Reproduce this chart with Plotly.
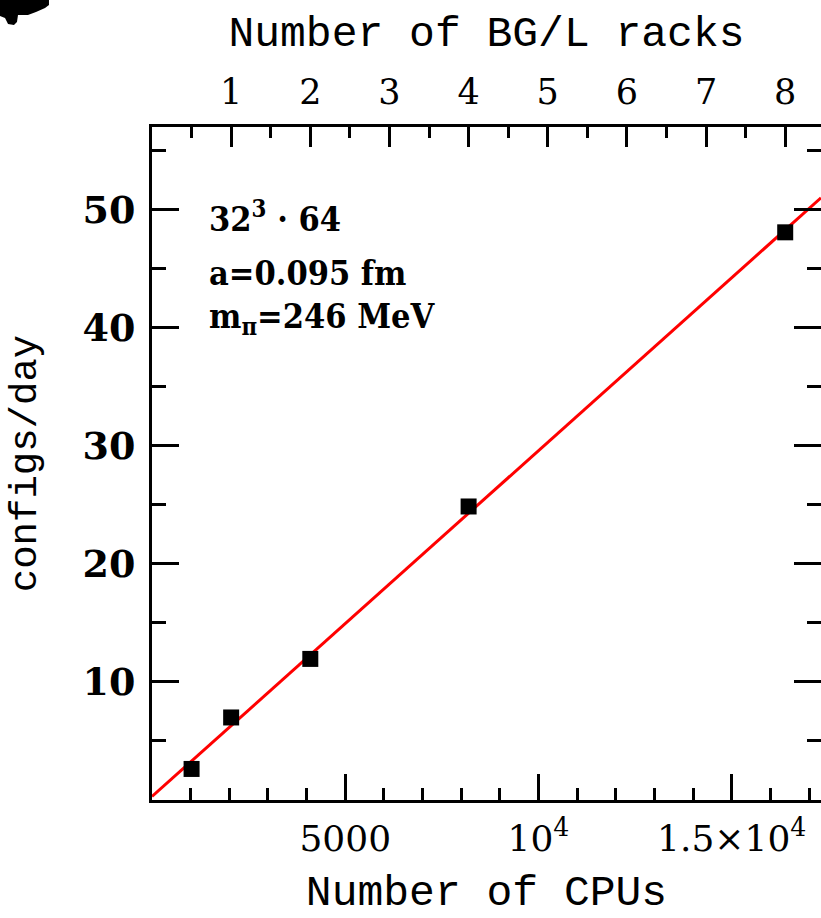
import plotly.graph_objects as go

# ---- data ----
cpus = [1024, 2048, 4096, 8192, 16384]
configs_per_day = [2.63, 6.99, 11.95, 24.86, 48.08]

fit_x = [0, 17310]
fit_y = [0.3, 51.0]

cpus_per_rack = 2048
rack_labels = ["1", "2", "3", "4", "5", "6", "7", "8"]
rack_tickvals = [cpus_per_rack * (i + 1) for i in range(len(rack_labels))]
rack_minor = [cpus_per_rack * i + cpus_per_rack // 2 for i in range(len(rack_labels))]

x_tickvals = [5000, 10000, 15000]
x_ticktext = ["5000", "10<sup>4</sup>", "1.5×10<sup>4</sup>"]
y_tickvals = [10, 20, 30, 40, 50]

X_RANGE = [0, 17310]
Y_RANGE = [0, 57]

W, H = 821, 918
ML, MR, MT, MB = 152, 0, 127, 118

serif = "DejaVu Serif"
serif_cond = "'DejaVu Serif Condensed', 'DejaVu Serif', serif"
mono = "Liberation Mono"

fig = go.Figure()
fig.add_trace(go.Scatter(x=fit_x, y=fit_y, mode="lines",
                         line=dict(color="#ff0000", width=3), showlegend=False,
                         hoverinfo="skip"))
fig.add_trace(go.Scatter(x=cpus, y=configs_per_day, mode="markers",
                         marker=dict(symbol="square", size=16, color="black",
                                     line=dict(width=0)),
                         showlegend=False))
# invisible trace so that the top / right overlay axes are drawn
fig.add_trace(go.Scatter(x=fit_x, y=fit_y, xaxis="x2", yaxis="y2", mode="markers",
                         marker=dict(opacity=0), showlegend=False,
                         hoverinfo="skip"))

axis_common = dict(showgrid=False, zeroline=False, ticks="inside",
                   tickcolor="black", tickwidth=3, linecolor="black", linewidth=3)

fig.update_layout(
    width=W, height=H,
    margin=dict(l=ML, r=MR, t=MT, b=MB, autoexpand=False),
    paper_bgcolor="white", plot_bgcolor="white",
    xaxis=dict(range=X_RANGE, showline=True, tickmode="array",
               tickvals=x_tickvals, ticktext=x_ticktext, ticklen=26,
               minor=dict(dtick=1000, tick0=0, ticklen=12, tickwidth=3,
                          ticks="inside", tickcolor="black"),
               tickfont=dict(family=serif, size=36, color="black"),
               ticklabelstandoff=5,
               title=dict(text="Number of CPUs",
                          font=dict(family=mono, size=43, color="black"),
                          standoff=30),
               **axis_common),
    xaxis2=dict(range=X_RANGE, overlaying="x", side="top", anchor="y2",
                showline=True, tickmode="array", tickvals=rack_tickvals,
                ticktext=rack_labels, ticklen=20,
                minor=dict(tickmode="array", tickvals=rack_minor, ticklen=11,
                           tickwidth=3, ticks="inside", tickcolor="black"),
                tickfont=dict(family=serif, size=35, color="black"),
                ticklabelstandoff=6,
                title=dict(text="Number of BG/L racks",
                           font=dict(family=mono, size=43, color="black"),
                           standoff=12),
                **axis_common),
    yaxis=dict(range=Y_RANGE, showline=True, tickmode="array",
               tickvals=y_tickvals, ticklen=27,
               minor=dict(dtick=5, tick0=0, ticklen=14, tickwidth=3,
                          ticks="inside", tickcolor="black"),
               tickfont=dict(family=serif, size=38, color="black", weight="bold"),
               ticklabelstandoff=6,
               title=dict(text="configs/day",
                          font=dict(family=mono, size=39, color="black"),
                          standoff=34),
               **axis_common),
    yaxis2=dict(range=Y_RANGE, overlaying="y", side="right", anchor="x2",
                showline=False, tickmode="array", tickvals=y_tickvals,
                ticklen=27, showticklabels=False,
                minor=dict(dtick=5, tick0=0, ticklen=14, tickwidth=3,
                           ticks="inside", tickcolor="black"),
                **axis_common),
)

# inset text
inset_font = dict(family=serif_cond, size=34, color="black", weight="bold")
inset_lines = ["32<sup>3</sup> · 64", "a=0.095 fm", "m<sub>π</sub>=246 MeV"]
inset_y = [49.4, 44.6, 40.8]
for txt, yy in zip(inset_lines, inset_y):
    fig.add_annotation(x=1430, y=yy, xref="x", yref="y", text=txt,
                       showarrow=False, xanchor="left", yanchor="middle",
                       font=inset_font)

# scan artefact in the top-left corner (pixel coords -> paper coords)
def px(xp, yp):
    pw = W - ML - MR
    ph = H - MT - MB
    return (xp - ML) / pw, (H - MB - yp) / ph

blob = [(0, 0), (49, 0), (49, 5), (45, 8), (36, 12), (28, 15), (18, 15),
        (17, 22), (14, 25), (8, 24), (5, 18), (0, 16)]
path = "M " + " L ".join("%.4f,%.4f" % px(a, b) for a, b in blob) + " Z"
fig.add_shape(type="path", path=path, xref="paper", yref="paper",
              fillcolor="black", line=dict(width=0), layer="above")

fig.write_html("out.html")
